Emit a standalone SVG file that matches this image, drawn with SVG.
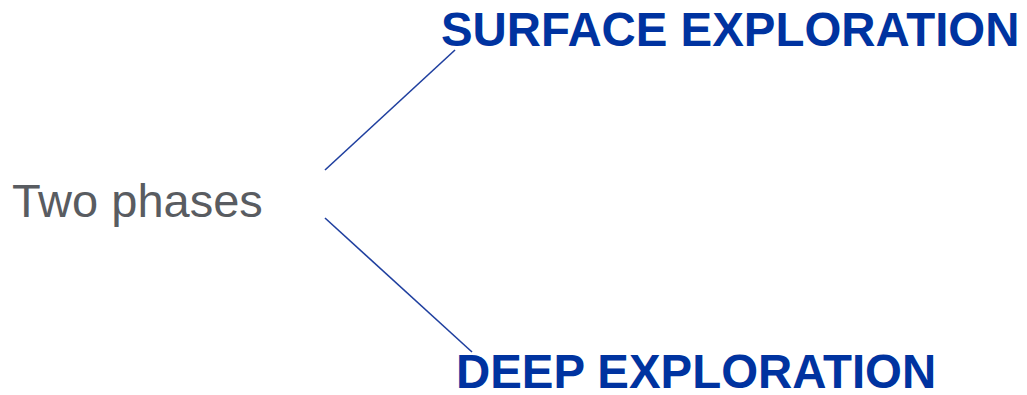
<svg xmlns="http://www.w3.org/2000/svg" width="1027" height="395" viewBox="0 0 1027 395">
<style>
.title{font-family:"Liberation Sans",Arial,sans-serif;font-weight:bold;font-size:47.4px;fill:#0033A0}
.root{font-family:"Liberation Sans",Arial,sans-serif;font-size:47px;fill:#595C61}
.conn{stroke:#1F3F9F;stroke-width:1.6;fill:none}
</style>
<rect width="1027" height="395" fill="#FFFFFF"/>
<g id="root"><text class="root" x="12" y="217">Two phases</text></g>
<g id="surface"><text class="title" x="441" y="46">SURFACE EXPLORATION</text></g>
<g id="deep"><text class="title" x="456" y="388">DEEP EXPLORATION</text></g>
<g id="connectors">
<line class="conn" x1="325" y1="170" x2="455" y2="50"/>
<line class="conn" x1="325" y1="218" x2="472" y2="352"/>
</g>
</svg>
